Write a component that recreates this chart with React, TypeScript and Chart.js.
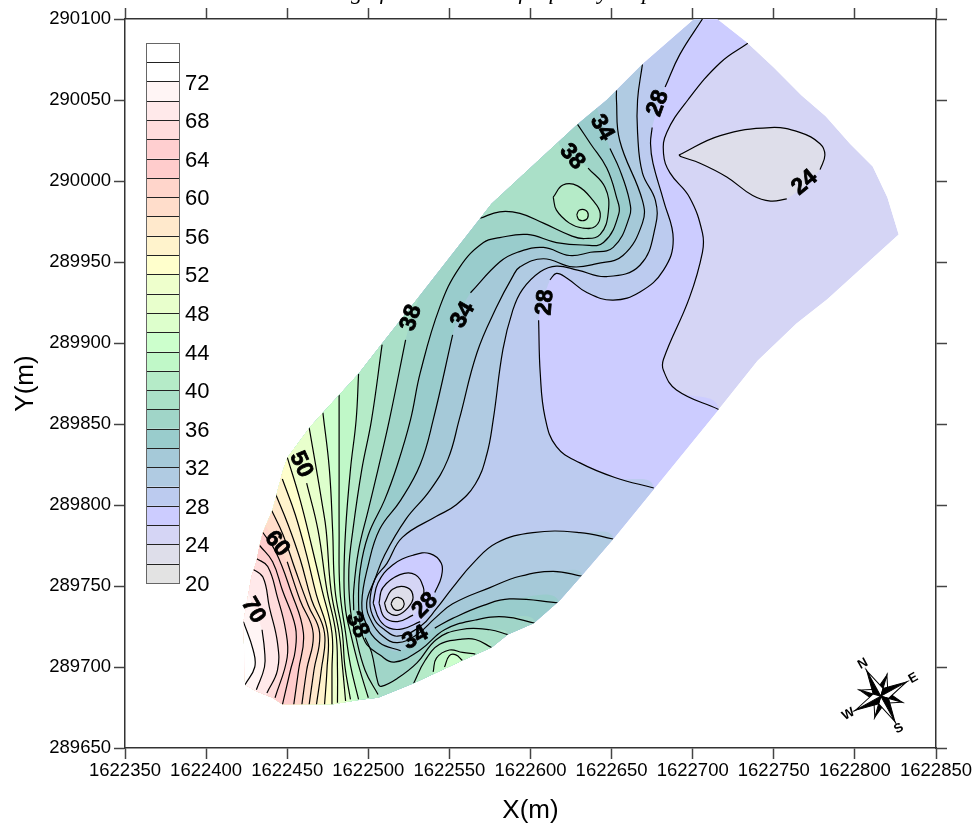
import React, { useEffect, useRef } from "react";
import { Chart, registerables } from "chart.js";

// All contour vertices are metres: x - 1622000, y - 289000. GAP = contour label interrupts the line.
const X_BASE = 1622000;
const Y_BASE = 289000;
const GAP = null;
type P = [number, number] | null;

const regionOutline: P[] = [[424,689],[423,728],[428,756],[431,765],[433,775],[435,783],[441,797],[447,820],[450,829],[464,848],[472,857],[483,869],[494,881],[508,899],[530,927],[569,977],[576,986],[629,1035],[647,1050],[669,1072],[701,1100],[715,1100],[734,1085],[750,1070],[767,1053],[782,1040],[797,1023],[811,1009],[820,990],[827,967],[783,927],[764,912],[740,889],[716,859],[677,811],[651,779],[632,757],[618,741],[602,727],[586,720],[576,712],[558,704],[528,690],[506,681],[496,680],[478,677],[447,677],[441,681],[431,685],[424,689]];

const iso26: P[] = [[734,1085],[717,1073],[697,1050],[684,1030],[682,1017],[686,1005],[698,990],[706,968],[706,956],[698,928],[682,890],[682,883],[690,871],[716,859]];
const iso28: P[] = [[706,1100],[692,1078],[683,1058],GAP,[675,1033],[674,1023],[675.5,1011],[682,988],[688,964],[682,945],[667.5,931.5],[651,926.5],[635,931],[622.5,940],[616,943],[612,939],GAP,[605,914],[606,881.5],[609,854],[616,836],[630.5,826],[652,817],[676,810.5]];
const iso30: P[] = [[669,1072],[666,1050],[666,1030],[669,1005],[677,988],[677,972],[667.5,948],[647,941],[629,945],[616,947.5],[606,944],[595,933],[589,920],[583,896],[577,852.5],[573,831],[566,813],[554,800],[542,793],[521,780],[511.5,764],[504,754],[501,739.5],[504,729],[510,723],[518,719],[532,725],[542,736],[552,749],[564.5,764],[579,776.5],[601.5,783],[630.5,783],[651,779]];
const iso32: P[] = [[653,1056],[653,1050],[655,1025],[669,988],[669,974],[657,954],[641,949],[626,947],[608,952],[593.5,947],[589,941],[579,922],[567,894],[556,852.5],[549,828],[538,809],[523,791],[510,769],[504,754],[499,739.5],[502,728],[509,719],[518,715],[530,720],[541,730],[552,739],[575,749],[593.5,756],[614,759],[632,756]];
const iso34: P[] = [[641,1045],GAP,[649,1020],[655,1007],[661,988],[661,978],[651,959],[637,956],[624,954],[608,959],[592,956],[581,950],[563,931],GAP,[552,905],[540,852.5],[532,825],[520,803],[507,785],[500,763],[496,739.5],[499,726],[507,715],[520,710],GAP,[541,724],[552,730],[571,738],[587,742],[618,739.5]];
const iso36: P[] = [[629,1035],[637,1023],[647,1008],[653,990],[654.5,980],[645,962],[632,960.5],[616,962],[598,967],[581,965],[571,962],[556.5,947],[544,922],[532,881.5],[526,852.5],[518,825],[510,803],[500,781.5],[495,760],[494,739.5],[495.5,723],[499,714],[507,707.5],[516,703],[532,710.5],[547,723],[566,729],[584,731],[603,727]];
const iso38West: P[] = [[531,928],GAP,[523,902],[513,852.5],[506,822],[500,797],[494,772],[491,747.5],[491,735],GAP,[498,718],[502,709],[506,690],[508,688],[518,693],[530,702.5],[542,717],[556.5,723],[575,723],[586,720]];
const iso38North: P[] = [[569,977],[581,981],[593.5,980],[608,974],[625.6,966],[633.5,964.5],[643,967],[648,981],[646,996],[635.5,1008],GAP,[617,1025]];
const iso40West: P[] = [[508.5,899],[502,852.5],[496,822],[490.5,784.5],[488,760],[489,735],[492,720],[498,698],[506,683]];
const iso40Loop: P[] = [[614,990],[620,997.5],[629,997],[638.5,988],[643,980],[640,972],[632,971],[624,974],[616,982],[614,990]];
const iso40Bump: P[] = [[528,690],[535,704],[544,714],[556.5,717],[566,717],[576,712]];
const iso42West: P[] = [[494,881],[492.5,852.5],[489,822],[486,784.5],[485,754],[486,735],[489,721],[494,701],[500,681]];
const iso42Loop: P[] = [[628.5,979],[630,982],[634,982],[635.6,979],[634,976],[630,976],[628.5,979]];
const iso42Bump: P[] = [[540,697],[542,705.5],[550,710.5],[558,709],[566,708]];
const iso44West: P[] = [[482,868],[482,852.5],[482,815.5],[482,784.5],[482.5,747.5],[486,721],[489,701],[494,680]];
const iso44Bump: P[] = [[547,700],[550,707],[554,707.5],[558,704]];
const iso46: P[] = [[472,857],[476,822],[478,784.5],[479.5,747.5],[484,721],[485.5,701],[489,680]];
const iso48: P[] = [[463.5,848],[468,822],[471.5,801],[474,784.5],[477,747.5],[482,721],[484,701],[486,679]];
const iso50: P[] = [[455,834],GAP,[462,813.5],[469,784.5],[474.5,747.5],[480,721],[481,698],[481,678]];
const iso52: P[] = [[450,829.6],[458,803],[465,775],[471.5,747.5],[477.6,721],[477.6,698],[477.6,676.5]];
const iso54: P[] = [[447,816],[455,794],[462,769],[468,744.5],[475,721],[474.5,698],[473,676.5]];
const iso56: P[] = [[442.5,807.5],[450.5,788],[458,766.5],[465,741.5],[473,721],[471,698],[468,676.5]];
const iso58: P[] = [[440,797.5],[447.5,781.5],[455,760],[463,738],[470,721],[466.5,698],[463.5,676.5]];
const iso60: P[] = [[437,786.5],GAP,[450,765],[458,741],[466,721],[462,698],[459,676.5]];
const iso62: P[] = [[435,783],[443,771],[452,747.5],[460,721],[457,698],[454,676.5]];
const iso64: P[] = [[433,775],[441,765],[447,747.5],[455,725],[455,710.5],[452,698],[447,676.5]];
const iso66: P[] = [[431,767],[438,762],[444,743],[449,723],[450,706],[442.5,681]];
const iso68: P[] = [[428,761],[435,755.5],[439,737],[444,715],[444,698],[437.5,684]];
const iso70: P[] = [[424,750.6],GAP,[434.5,723],[436,710.5],[436,700],[431,686]];
const iso72: P[] = [[423,728],[429,710.5],[430,700],[424,689]];

const lowLoop28: P[] = [[503,739.5],[506,752],[515,763],[527.6,769],[538,770],[545,764],[545,755.5],[541,746],GAP,[532,728],[521,723.5],[513,724],[507,729],[503,739.5]];
const lowLoop26: P[] = [[506.6,739.5],[509,749],[519.5,757],[529,757],[534,749],[534,742.6],GAP,[527.6,732],[518,728],[510,730.6],[506.6,739.5]];
const lowLoop24: P[] = [[510,739.5],[515,748],[524,749],[527.6,743],[524.5,736.6],[518,732],[512,734],[510,739.5]];
const lowLoop22: P[] = [[514,739],[515.6,742],[518.5,743],[521.6,741],[521.6,737],[518.5,735],[515.6,736],[514,739]];
const eastLoop24: P[] = [[691.5,1016],[717,1028],[748,1033],[766,1030],[778.5,1023],[781.5,1016],[778.5,1007],GAP,[758,989],[748,987.6],[737,991],[721,1002.5],[704.5,1011],[693,1015],[691.5,1016]];

// Colour-bar bands, bottom to top (each 2 units wide, from 20 to 76)
const bandFloor = 20;
const bandStep = 2;
const bandColors = ["#e3e3e3","#dedeea","#d5d5f5","#ccccff","#bccbef","#b0cbe2","#a5c9d8","#99cccc","#a0d5c8","#aae0c8","#b5ebc8","#c0f8c8","#ccffcc","#ddffcc","#e8ffcc","#eeffcc","#ffffcc","#fff3cc","#ffe9cc","#ffddcb","#ffd5cb","#ffcccc","#ffcfd0","#ffdcdc","#ffe9ea","#fff5f5","#ffffff","#ffffff"];
const legendLabels = [20,24,28,32,36,40,44,48,52,56,60,64,68,72];

const labelTexts = ["38","34","28","38","34","28","24","50","60","70","38","28","34"];
const labelX = [526.5,558.4,609,625.6,644,678.6,769,458.5,443.7,429,493,535,529];
const labelY = [915.5,917.3,925,1015,1033,1048,999,825,776,735,726,738,718];
const labelAngle = [-72,-60,-85,50,60,-70,-40,65,50,60,65,-45,-30];

const compassX = 816;
const compassY = 682;
const xTicksMin = 1622350, xTicksMax = 1622850;
const yTicksMin = 289650, yTicksMax = 290100;

const band = (level: number) => bandColors[(level - bandFloor) / bandStep];
const X = (v: number) => X_BASE + v;
const Y = (v: number) => Y_BASE + v;
const solid = (pts: P[]) => pts.filter(Boolean) as [number, number][];
const toXY = (pts: P[]) => pts.map((p) => (p ? { x: X(p[0]), y: Y(p[1]) } : { x: NaN, y: NaN }));

function closure(pts: P[], ends: string) {
  const s = solid(pts);
  const a = s[0], b = s[s.length - 1];
  const bot = yTicksMin, top = yTicksMax, left = xTicksMin;
  if (ends === "NS") return [...s.map((p) => ({ x: X(p[0]), y: Y(p[1]) })), { x: X(b[0]), y: bot }, { x: left, y: bot }, { x: left, y: top }, { x: X(a[0]), y: top }];
  if (ends === "NN") return [...s.map((p) => ({ x: X(p[0]), y: Y(p[1]) })), { x: X(b[0]), y: top }, { x: X(a[0]), y: top }];
  if (ends === "SS") return [...s.map((p) => ({ x: X(p[0]), y: Y(p[1]) })), { x: X(b[0]), y: bot }, { x: X(a[0]), y: bot }];
  return s.map((p) => ({ x: X(p[0]), y: Y(p[1]) }));
}

// painter's order: fill colour is the band laid down by that contour
const contours: { pts: P[]; ends: string; color: string }[] = [
  { pts: iso26, ends: "NS", color: band(26) },
  { pts: iso28, ends: "NS", color: band(28) },
  { pts: iso30, ends: "NS", color: band(30) },
  { pts: iso32, ends: "NS", color: band(32) },
  { pts: iso34, ends: "NS", color: band(34) },
  { pts: iso36, ends: "NS", color: band(36) },
  { pts: iso38West, ends: "NS", color: band(38) },
  { pts: iso38North, ends: "NN", color: band(38) },
  { pts: iso40West, ends: "NS", color: band(40) },
  { pts: iso40Loop, ends: "loop", color: band(40) },
  { pts: iso40Bump, ends: "SS", color: band(40) },
  { pts: iso42West, ends: "NS", color: band(42) },
  { pts: iso42Loop, ends: "loop", color: band(42) },
  { pts: iso42Bump, ends: "SS", color: band(42) },
  { pts: iso44West, ends: "NS", color: band(44) },
  { pts: iso44Bump, ends: "SS", color: band(44) },
  { pts: iso46, ends: "NS", color: band(46) },
  { pts: iso48, ends: "NS", color: band(48) },
  { pts: iso50, ends: "NS", color: band(50) },
  { pts: iso52, ends: "NS", color: band(52) },
  { pts: iso54, ends: "NS", color: band(54) },
  { pts: iso56, ends: "NS", color: band(56) },
  { pts: iso58, ends: "NS", color: band(58) },
  { pts: iso60, ends: "NS", color: band(60) },
  { pts: iso62, ends: "NS", color: band(62) },
  { pts: iso64, ends: "NS", color: band(64) },
  { pts: iso66, ends: "NS", color: band(66) },
  { pts: iso68, ends: "NS", color: band(68) },
  { pts: iso70, ends: "NS", color: band(70) },
  { pts: iso72, ends: "NS", color: band(72) },
  { pts: lowLoop28, ends: "loop", color: band(26) },
  { pts: lowLoop26, ends: "loop", color: band(24) },
  { pts: lowLoop24, ends: "loop", color: band(22) },
  { pts: lowLoop22, ends: "loop", color: band(20) },
  { pts: eastLoop24, ends: "loop", color: band(22) },
];

const clipPlugin = {
  id: "regionClip",
  beforeDatasetsDraw(chart: any) {
    const { ctx, scales } = chart;
    ctx.save();
    ctx.beginPath();
    solid(regionOutline).forEach((p, i) => {
      const px = scales.x.getPixelForValue(X(p[0]));
      const py = scales.y.getPixelForValue(Y(p[1]));
      if (i === 0) ctx.moveTo(px, py);
      else ctx.lineTo(px, py);
    });
    ctx.closePath();
    ctx.clip();
  },
  afterDatasetsDraw(chart: any) {
    chart.ctx.restore();
  },
};

const SANS = '"Liberation Sans", Arial, sans-serif';

function drawCompass(ctx: CanvasRenderingContext2D, cx: number, cy: number) {
  const rot = (-29 * Math.PI) / 180;
  ctx.save();
  ctx.translate(cx, cy);
  ctx.rotate(rot);
  ctx.lineWidth = 1;
  ctx.strokeStyle = "#000";
  const ray = (ang: number, len: number, inner: number) => {
    const a = (ang * Math.PI) / 180;
    const tip = [Math.sin(a) * len, -Math.cos(a) * len];
    const l = [Math.sin(a - Math.PI / 4) * inner, -Math.cos(a - Math.PI / 4) * inner];
    const r = [Math.sin(a + Math.PI / 4) * inner, -Math.cos(a + Math.PI / 4) * inner];
    ctx.beginPath(); ctx.moveTo(0, 0); ctx.lineTo(tip[0], tip[1]); ctx.lineTo(l[0], l[1]); ctx.closePath();
    ctx.fillStyle = "#000"; ctx.fill(); ctx.stroke();
    ctx.beginPath(); ctx.moveTo(0, 0); ctx.lineTo(tip[0], tip[1]); ctx.lineTo(r[0], r[1]); ctx.closePath();
    ctx.fillStyle = "#fff"; ctx.fill(); ctx.stroke();
  };
  [45, 135, 225, 315].forEach((a) => ray(a, 22, 8));
  [0, 90, 180, 270].forEach((a) => ray(a, 29, 8));
  ctx.fillStyle = "#000";
  ctx.font = `bold 13px ${SANS}`;
  ctx.textAlign = "center";
  ctx.textBaseline = "middle";
  [["N", 0], ["E", 90], ["S", 180], ["W", 270]].forEach(([t, ang]) => {
    const a = ((ang as number) * Math.PI) / 180;
    ctx.save();
    ctx.translate(Math.sin(a) * 37, -Math.cos(a) * 37);
    ctx.fillText(t as string, 0, 0);
    ctx.restore();
  });
  ctx.restore();
}

const decorPlugin = {
  id: "decor",
  afterDraw(chart: any) {
    const { ctx, scales, chartArea } = chart;
    // title, cut off by the top of the picture
    ctx.save();
    ctx.fillStyle = "#000";
    ctx.font = 'italic 23px "Liberation Serif", serif';
    ctx.textAlign = "center";
    ctx.textBaseline = "alphabetic";
    ctx.fillText("Contouring of the dominant frequency map", 455, -1);
    ctx.restore();

    // contour labels
    ctx.save();
    ctx.fillStyle = "#000";
    ctx.strokeStyle = "#000";
    ctx.lineWidth = 0.8;
    ctx.font = `bold 23px ${SANS}`;
    ctx.textAlign = "center";
    ctx.textBaseline = "middle";
    labelTexts.forEach((t, i) => {
      ctx.save();
      ctx.translate(scales.x.getPixelForValue(X(labelX[i])), scales.y.getPixelForValue(Y(labelY[i])));
      ctx.rotate((labelAngle[i] * Math.PI) / 180);
      ctx.fillText(t, 0, 0);
      ctx.strokeText(t, 0, 0);
      ctx.restore();
    });
    ctx.restore();

    // colour bar
    const left = chartArea.left + 21;
    const width = 33;
    const bottom = chartArea.top + 564;
    const h = 19.29;
    ctx.save();
    bandColors.forEach((c, i) => {
      ctx.fillStyle = c;
      ctx.fillRect(left, bottom - (i + 1) * h, width, h);
    });
    ctx.strokeStyle = "#222";
    ctx.lineWidth = 1;
    ctx.beginPath();
    for (let i = 0; i <= bandColors.length; i++) {
      const y = Math.round(bottom - i * h) + 0.5;
      ctx.moveTo(left, y);
      ctx.lineTo(left + width, y);
    }
    ctx.stroke();
    ctx.strokeStyle = "#666";
    ctx.strokeRect(left + 0.5, Math.round(bottom - bandColors.length * h) + 0.5, width, Math.round(bandColors.length * h));
    ctx.fillStyle = "#000";
    ctx.font = `22px ${SANS}`;
    ctx.textAlign = "left";
    ctx.textBaseline = "middle";
    legendLabels.forEach((v) => {
      ctx.fillText(String(v), left + width + 6, bottom - ((v - bandFloor) / bandStep) * h + 2);
    });
    ctx.restore();

    drawCompass(ctx, scales.x.getPixelForValue(X(compassX)), scales.y.getPixelForValue(Y(compassY)));
  },
};

Chart.register(clipPlugin, ...registerables);

const tickStyle = { drawOnChartArea: false, drawTicks: true, tickLength: 11, tickColor: "#444", tickWidth: 1.5 };
const borderStyle = { display: true, color: "#333", width: 1.5 };

export default function App() {
  const ref = useRef<HTMLCanvasElement | null>(null);
  useEffect(() => {
    if (!ref.current) return;
    const base = {
      data: closure(regionOutline, "loop"),
      showLine: true, pointRadius: 0, borderWidth: 0, borderColor: "transparent",
      backgroundColor: band(24), fill: "shape", tension: 0,
    };
    const fills = contours.map((c) => ({
      data: closure(c.pts, c.ends),
      showLine: true, pointRadius: 0, borderWidth: 0, borderColor: "transparent",
      backgroundColor: c.color, fill: "shape", tension: 0.42,
    }));
    const lines = contours.map((c) => ({
      data: toXY(c.pts),
      showLine: true, pointRadius: 0, borderWidth: 1.2, borderColor: "#000",
      backgroundColor: "transparent", fill: false, tension: 0.42,
    }));
    const painter = [base, ...fills, ...lines];
    const chart = new Chart(ref.current, {
      type: "scatter",
      data: { datasets: [...painter].reverse() as any },
      plugins: [decorPlugin],
      options: {
        animation: false,
        responsive: false,
        layout: { padding: 0 },
        plugins: { legend: { display: false }, tooltip: { enabled: false }, filler: { drawTime: "beforeDatasetsDraw" } as any },
        scales: {
          x: {
            type: "linear", position: "bottom", min: xTicksMin, max: xTicksMax,
            grid: tickStyle, border: borderStyle,
            ticks: { stepSize: 50, autoSkip: false, maxRotation: 0, minRotation: 0, color: "#000", padding: 1, font: { family: SANS, size: 18.5 }, callback: (v: any) => String(v) },
            title: { display: true, text: "X(m)", color: "#000", font: { family: SANS, size: 26 }, padding: { top: 0, bottom: -1 } },
            afterFit: (s: any) => { s.height = 77; },
          },
          x2: {
            type: "linear", position: "top", min: xTicksMin, max: xTicksMax,
            grid: tickStyle, border: borderStyle,
            ticks: { display: false, stepSize: 50, autoSkip: false },
            afterFit: (s: any) => { s.height = 19; },
          },
          y: {
            type: "linear", position: "left", min: yTicksMin, max: yTicksMax,
            grid: tickStyle, border: borderStyle,
            ticks: { stepSize: 50, autoSkip: false, color: "#000", padding: 3, font: { family: SANS, size: 18.5 }, callback: (v: any) => String(v) },
            title: { display: true, text: "Y(m)", color: "#000", font: { family: SANS, size: 26 }, padding: { top: 10, bottom: 0 } },
            afterFit: (s: any) => { s.width = 125; },
          },
          y2: {
            type: "linear", position: "right", min: yTicksMin, max: yTicksMax,
            grid: tickStyle, border: borderStyle,
            ticks: { display: false, stepSize: 50, autoSkip: false },
            afterFit: (s: any) => { s.width = 39; },
          },
        },
      } as any,
    });
    return () => chart.destroy();
  }, []);
  return (
    <div style={{ position: "absolute", left: 0, top: 0, width: 975, height: 825 }}>
      <canvas ref={ref} width={975} height={825} style={{ display: "block" }} />
    </div>
  );
}
